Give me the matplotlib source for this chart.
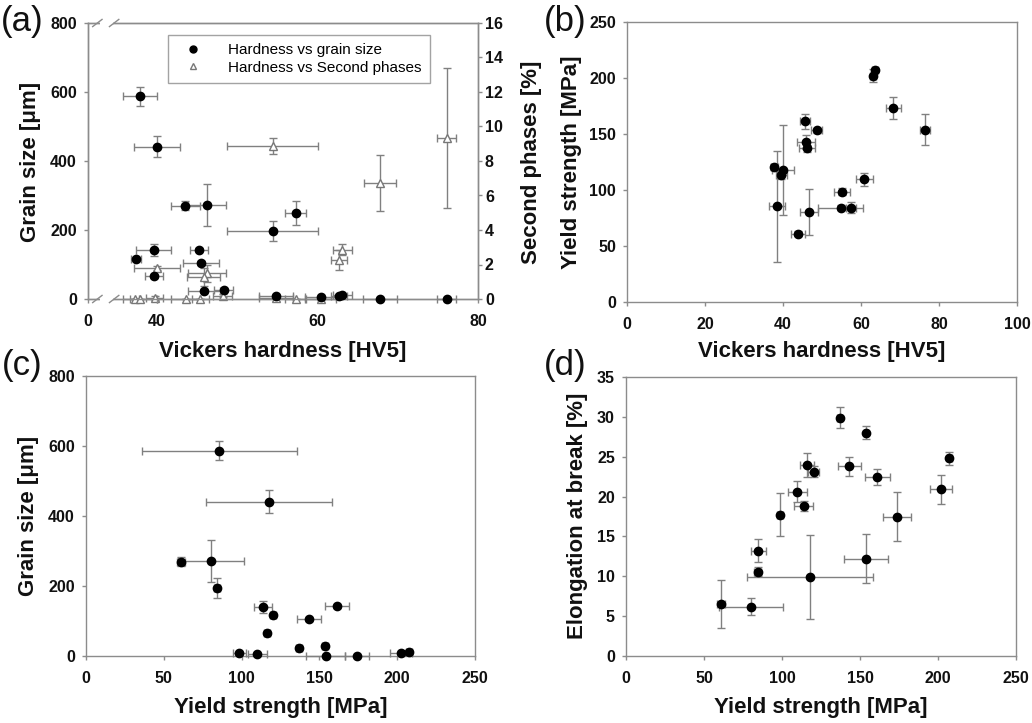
import matplotlib
matplotlib.use("Agg")
import matplotlib.pyplot as plt
from matplotlib.lines import Line2D

plt.rcParams['font.family'] = ['Liberation Sans', 'DejaVu Sans']
plt.rcParams['font.weight'] = 'bold'

W, H = 1032, 723

# ---------------- (a) hardness vs grain size / second phases ----------------
hv_gs = [37.9, 40.0, 43.5, 46.2, 57.3, 54.4, 39.6, 37.4, 45.2, 45.5, 39.6,
         45.8, 48.3, 54.8, 60.4, 62.7, 63.1, 67.8, 76.1]
hv_gs_err = [2.1, 2.9, 1.8, 2.4, 1.3, 5.7, 2.2, 0.6, 1.1, 2.2, 1.1,
             2.0, 1.2, 2.1, 1.9, 1.0, 1.2, 2.1, 1.2]
grain = [587, 442, 270, 273, 249, 196, 141, 117, 143, 104, 66,
         22, 27, 10, 5, 8, 11, 1, 1]
grain_err = [28, 31, 13, 61, 35, 29, 17, 5, 5, 5, 5,
             3, 3, 2, 2, 2, 2, 0, 0]

hv_sp = [54.4, 67.8, 76.1, 63.1, 62.7, 40.0, 46.2, 45.8, 37.2, 37.9, 39.7,
         43.6, 45.4, 48.2, 54.8, 57.3, 60.4]
hv_sp_err = [5.7, 2.0, 1.2, 1.2, 1.0, 2.9, 2.4, 2.1, 0.6, 2.1, 1.1,
             1.8, 1.1, 1.2, 2.1, 1.3, 1.9]
second = [8.85, 6.72, 9.33, 2.86, 2.24, 1.80, 1.50, 1.28, 0.0, 0.0, 0.05,
          0.0, 0.0, 0.19, 0.03, 0.0, 0.02]
second_err = [0.46, 1.6, 4.06, 0.3, 0.58, 0.1, 0.5, 0.5, 0, 0, 0.1,
              0, 0, 0.1, 0, 0, 0]

hv_ticks = [31.4, 40, 60, 80]
hv_ticklabels = ['0', '40', '60', '80']

# ---------------- (b) hardness vs yield strength ----------------
hv_b = [63.6, 63.1, 68.3, 76.4, 45.6, 48.6, 45.9, 46.2, 37.8, 40.1, 39.6,
        38.5, 60.8, 55.2, 54.8, 57.4, 46.7, 43.9]
hv_b_err = [0.8, 0.8, 2.0, 1.4, 1.3, 1.3, 2.3, 2.0, 1.0, 2.8, 1.5,
            2.1, 2.2, 2.1, 5.7, 1.3, 2.4, 1.8]
ys_b = [207, 202, 173.5, 154, 161.3, 153.3, 143, 137.2, 120.5, 118, 113.5,
        85.5, 109.5, 98.5, 84.2, 84.2, 80.4, 61]
ys_b_err = [2, 5.7, 9.7, 13.9, 7, 2, 6, 3, 3, 40, 4,
            49.5, 5.6, 3, 2, 5, 20.5, 2]

# ---------------- (c) yield strength vs grain size ----------------
ys_c = [85.7, 117.8, 61.1, 80.3, 84.2, 113.8, 120.2, 161.1, 143.1, 116.1,
        137.1, 153.6, 98.5, 110.1, 154.0, 174.0, 202.4, 207.4]
ys_c_err = [49.8, 40.4, 2.7, 21, 2, 5.9, 2, 7.7, 7.7, 2,
            2, 2, 4.3, 6, 12.4, 7.6, 7, 2]
grain_c = [587, 441, 270, 272, 195, 140, 116, 142, 105, 65,
           24, 29, 9.5, 6.7, 0.5, 1, 8, 10.5]
grain_c_err = [28, 32, 12, 60, 28, 17, 5, 5, 5, 5,
               4, 4, 3, 2, 0, 0, 2, 3]

# ---------------- (d) yield strength vs elongation ----------------
ys_d = [136.9, 153.8, 207.2, 115.9, 120.2, 143.1, 161.2, 109.9, 113.8, 201.9,
        98.8, 173.7, 84.9, 84.3, 153.8, 118.0, 60.9, 80.2]
ys_d_err = [1.5, 1.5, 1.5, 4.3, 3.5, 7.5, 7.8, 5.9, 6.1, 7,
            2, 9.2, 4.8, 2, 13.9, 40.3, 2.5, 20.6]
elong = [29.9, 28.0, 24.8, 24.0, 23.1, 23.8, 22.4, 20.6, 18.8, 20.9,
         17.75, 17.5, 13.2, 10.6, 12.2, 9.9, 6.5, 6.2]
elong_err = [1.3, 0.8, 0.8, 1.5, 0.7, 1.2, 1.0, 1.3, 0.6, 1.8,
             2.7, 3.1, 1.45, 0.6, 3.1, 5.3, 3.0, 1.1]

SPINE = '#8c8c8c'
ECOL = '#808080'


def px_axes(left, right, top, bottom):
    return fig.add_axes([left / W, 1 - bottom / H, (right - left) / W, (bottom - top) / H])


def style(ax):
    for s in ax.spines.values():
        s.set_color(SPINE)
        s.set_linewidth(1.0)
    ax.tick_params(axis='both', direction='out', length=3, width=1.0,
                   color=SPINE, labelsize=11.5, labelcolor='#111111')
    ax.tick_params(axis='x', pad=8)
    ax.tick_params(axis='y', pad=5)


def points(ax, x, y, xe, ye, marker='o', face='black', edge='black', ms=6.0):
    c = ax.errorbar(x, y, xerr=xe, yerr=ye, fmt=marker, mfc=face, mec=edge,
                    ms=ms, ecolor=ECOL, elinewidth=1.0, capsize=3, capthick=1.0,
                    zorder=4)
    for art in c.get_children():
        art.set_clip_on(False)
    return c


def label(x, y, s, rot=0, size=16, weight='bold'):
    fig.text(x / W, 1 - y / H, s, ha='center', va='center', rotation=rot,
             fontsize=size, fontweight=weight, color='#111111')


fig = plt.figure(figsize=(W / 100, H / 100), dpi=100)

# ---- (a)
axa = px_axes(88, 478, 23, 299)
style(axa)
axa2 = axa.twinx()
style(axa2)
axa2.tick_params(axis='y', pad=2)
points(axa2, hv_sp, second, hv_sp_err, second_err, marker='^', face='white',
       edge='#777777', ms=5.5)
points(axa, hv_gs, grain, hv_gs_err, grain_err)
axa.set_zorder(axa2.get_zorder() + 1)
axa.patch.set_visible(False)
axa.set_xlim(31.4, 80)
axa.set_ylim(0, 800)
axa2.set_ylim(0, 16)
axa.set_xticks(hv_ticks)
axa.set_xticklabels(hv_ticklabels)
axa.set_yticks([0, 200, 400, 600, 800])
axa2.set_yticks(range(0, 17, 2))

# axis break marks on the top and bottom spines
for yb in (0.0, 1.0):
    axa.plot([0.030, 0.065], [yb, yb], transform=axa.transAxes, color='white',
             lw=3, clip_on=False, zorder=5, solid_capstyle='butt')
    for x0 in (0.012, 0.055):
        axa.plot([x0, x0 + 0.024], [yb - 0.013, yb + 0.013],
                 transform=axa.transAxes, color=SPINE, lw=1.0,
                 clip_on=False, zorder=6)

handles = [
    Line2D([], [], ls='none', marker='o', mfc='black', mec='black', ms=5),
    Line2D([], [], ls='none', marker='^', mfc='white', mec='#777777', ms=5),
]
leg = axa.legend(handles, ['Hardness vs grain size', 'Hardness vs Second phases'],
                 loc='upper left', bbox_to_anchor=(0.205, 0.958),
                 prop={'size': 11, 'weight': 'normal'}, frameon=True,
                 fancybox=False, edgecolor=SPINE, borderpad=0.55,
                 handletextpad=1.2, labelspacing=0.25, handlelength=2.2,
                 borderaxespad=0)
leg.get_frame().set_linewidth(1.0)

# ---- (b)
axb = px_axes(627, 1017, 22, 302)
style(axb)
points(axb, hv_b, ys_b, hv_b_err, ys_b_err)
axb.set_xlim(0, 100)
axb.set_ylim(0, 250)
axb.set_xticks(range(0, 101, 20))
axb.set_yticks(range(0, 251, 50))

# ---- (c)
axc = px_axes(86, 475, 376, 656)
style(axc)
points(axc, ys_c, grain_c, ys_c_err, grain_c_err)
axc.set_xlim(0, 250)
axc.set_ylim(0, 800)
axc.set_xticks(range(0, 251, 50))
axc.set_yticks(range(0, 801, 200))

# ---- (d)
axd = px_axes(626, 1016, 377, 656)
style(axd)
points(axd, ys_d, elong, ys_d_err, elong_err)
axd.set_xlim(0, 250)
axd.set_ylim(0, 35)
axd.set_xticks(range(0, 251, 50))
axd.set_yticks(range(0, 36, 5))

# axis titles
label(283, 351, 'Vickers hardness [HV5]')
label(822, 351, 'Vickers hardness [HV5]')
label(281, 707, 'Yield strength [MPa]')
label(821, 708, 'Yield strength [MPa]')
label(31, 162, 'Grain size [\u03bcm]', rot=90)
label(532, 162, 'Second phases [%]', rot=90)
label(572, 162, 'Yield strength [MPa]', rot=90)
label(29, 516, 'Grain size [\u03bcm]', rot=90)
label(577, 516, 'Elongation at break [%]', rot=90)

# panel letters
label(22, 21, '(a)', size=25, weight='normal')
label(565, 21, '(b)', size=25, weight='normal')
label(22, 366, '(c)', size=25, weight='normal')
label(565, 366, '(d)', size=25, weight='normal')

fig.savefig('out.png', dpi=100)
